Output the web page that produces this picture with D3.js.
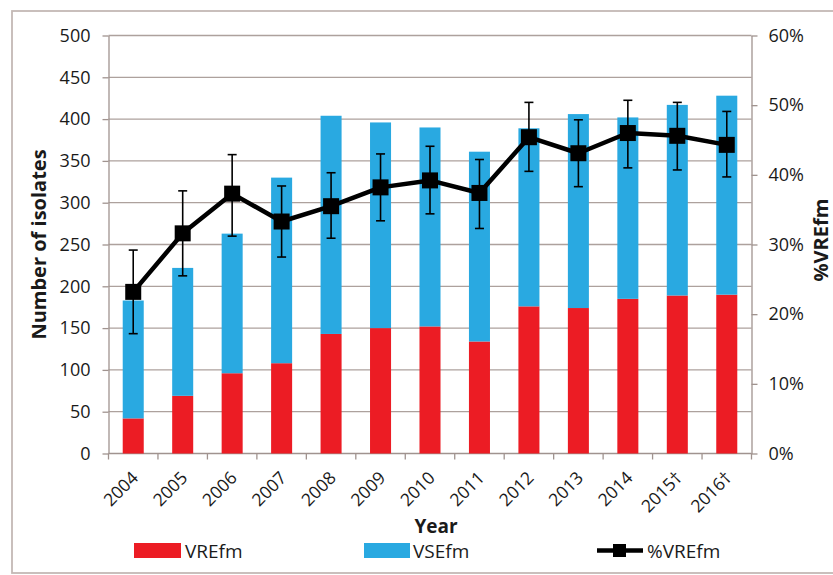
<!DOCTYPE html>
<html>
<head>
<meta charset="utf-8">
<script src="https://cdn.jsdelivr.net/npm/d3@7"></script>
<style>
  html, body { margin: 0; padding: 0; background: #ffffff; }
  svg { display: block; }
  text { font-family: "Open Sans", "Noto Sans", sans-serif; fill: #1a1a1a; }
</style>
</head>
<body>
<svg id="chart" width="833" height="575"></svg>
<script>
// ---- data ----
const years = ["2004","2005","2006","2007","2008","2009","2010","2011","2012","2013","2014","2015\u2020","2016\u2020"];
const vreCounts = [42, 69, 96, 108, 143, 150, 152, 134, 176, 174, 185, 189, 190];
const vseCounts = [141, 153, 167, 222, 261, 246, 238, 227, 213, 232, 217, 228, 238];
const pctVRE   = [23.2, 31.6, 37.3, 33.3, 35.5, 38.2, 39.2, 37.4, 45.4, 43.1, 46.0, 45.6, 44.3];
const pctLower = [17.2, 25.5, 31.2, 28.2, 30.9, 33.4, 34.4, 32.3, 40.5, 38.3, 41.0, 40.7, 39.7];
const pctUpper = [29.2, 37.7, 42.9, 38.4, 40.3, 43.0, 44.1, 42.2, 50.4, 47.9, 50.7, 50.4, 49.1];
const leftTicks = [0, 50, 100, 150, 200, 250, 300, 350, 400, 450, 500];
const rightTicks = [0, 10, 20, 30, 40, 50, 60];
const seriesNames = ["VREfm", "VSEfm", "%VREfm"];
const colors = { vre: "#ec1c24", vse: "#29a9e1", line: "#000000", grid: "#ada19d", axis: "#a0938f" };

// ---- layout ----
const svg = d3.select("#chart");
const L = 108.5, R = 751.5, T = 35.5, B = 453.5;

svg.append("rect").attr("x", 12).attr("y", 11).attr("width", 840).attr("height", 562)
  .attr("fill", "none").attr("stroke", "#c4b9b5").attr("stroke-width", 1.8);

const x = d3.scaleBand().domain(years).range([L, R]).paddingInner(0.575).paddingOuter(0.2875);
const y = d3.scaleLinear().domain([0, 500]).range([B, T]);
const y2 = d3.scaleLinear().domain([0, 60]).range([B, T]);

// gridlines
svg.append("g").selectAll("line").data(leftTicks.filter(d => d > 0)).join("line")
  .attr("x1", L).attr("x2", R).attr("y1", d => y(d)).attr("y2", d => y(d))
  .attr("stroke", colors.grid).attr("stroke-width", 1.3);

// left axis
const gl = svg.append("g").attr("transform", `translate(${L},0)`)
  .call(d3.axisLeft(y).tickValues(leftTicks).tickSize(6).tickPadding(12).tickSizeOuter(0));
gl.select(".domain").attr("stroke", colors.axis).attr("stroke-width", 1.3);
gl.selectAll(".tick line").attr("stroke", colors.axis).attr("stroke-width", 1.3);
gl.selectAll(".tick text").style("font-size", "18px").attr("fill", "#1a1a1a").style("font-family", "'Open Sans', sans-serif");

// right axis
const gr = svg.append("g").attr("transform", `translate(${R},0)`)
  .call(d3.axisRight(y2).tickValues(rightTicks).tickFormat(d => d + "%").tickSize(6).tickPadding(11).tickSizeOuter(0));
gr.select(".domain").attr("stroke", colors.axis).attr("stroke-width", 1.3);
gr.selectAll(".tick line").attr("stroke", colors.axis).attr("stroke-width", 1.3);
gr.selectAll(".tick text").style("font-size", "18px").attr("fill", "#1a1a1a").style("font-family", "'Open Sans', sans-serif");

// bottom axis line and ticks at band boundaries
const step = x.step();
const bounds = d3.range(years.length + 1).map(i => L + i * step);
svg.append("line").attr("x1", L).attr("x2", R).attr("y1", B).attr("y2", B)
  .attr("stroke", colors.axis).attr("stroke-width", 1.3);
svg.append("g").selectAll("line").data(bounds).join("line")
  .attr("x1", d => d).attr("x2", d => d).attr("y1", B).attr("y2", B + 6)
  .attr("stroke", colors.axis).attr("stroke-width", 1.3);

// bars
const stackData = years.map((yr, i) => ({ year: yr, vre: vreCounts[i], vse: vseCounts[i] }));
const stack = d3.stack().keys(["vre", "vse"])(stackData);
svg.append("g").selectAll("g").data(stack).join("g")
  .attr("fill", d => colors[d.key])
  .selectAll("rect").data(d => d).join("rect")
  .attr("x", d => x(d.data.year)).attr("width", x.bandwidth())
  .attr("y", d => y(d[1])).attr("height", d => y(d[0]) - y(d[1]));

// error bars
const cx = i => x(years[i]) + x.bandwidth() / 2;
const eg = svg.append("g").attr("stroke", colors.line).attr("stroke-width", 1.6);
years.forEach((yr, i) => {
  eg.append("line").attr("x1", cx(i)).attr("x2", cx(i)).attr("y1", y2(pctLower[i])).attr("y2", y2(pctUpper[i]));
  eg.append("line").attr("x1", cx(i) - 4.5).attr("x2", cx(i) + 4.5).attr("y1", y2(pctLower[i])).attr("y2", y2(pctLower[i]));
  eg.append("line").attr("x1", cx(i) - 4.5).attr("x2", cx(i) + 4.5).attr("y1", y2(pctUpper[i])).attr("y2", y2(pctUpper[i]));
});

// line + markers
const line = d3.line().x((d, i) => cx(i)).y(d => y2(d));
svg.append("path").datum(pctVRE).attr("d", line)
  .attr("fill", "none").attr("stroke", colors.line).attr("stroke-width", 4.5).attr("stroke-linejoin", "round");
const ms = 16;
svg.append("g").selectAll("rect").data(pctVRE).join("rect")
  .attr("x", (d, i) => cx(i) - ms / 2).attr("y", d => y2(d) - ms / 2)
  .attr("width", ms).attr("height", ms).attr("fill", colors.line);

// x labels
svg.append("g").selectAll("text").data(years).join("text")
  .attr("transform", d => `translate(${x(d) + x.bandwidth() / 2 + 6},${479}) rotate(-45)`)
  .attr("text-anchor", "end").style("font-size", "17.5px").text(d => d);

// axis titles
svg.append("text").attr("transform", `translate(46,${(T + B) / 2}) rotate(-90)`)
  .attr("text-anchor", "middle").style("font-size", "20px").style("font-weight", "bold").text("Number of isolates");
svg.append("text").attr("transform", `translate(828,${240}) rotate(-90)`)
  .attr("text-anchor", "middle").style("font-size", "20px").style("font-weight", "bold").text("%VREfm");
svg.append("text").attr("x", 436).attr("y", 533)
  .attr("text-anchor", "middle").style("font-size", "19px").style("font-weight", "bold").text("Year");

// legend
const lg = svg.append("g");
lg.append("rect").attr("x", 134).attr("y", 543).attr("width", 47).attr("height", 15).attr("fill", colors.vre);
lg.append("text").attr("x", 185).attr("y", 558).style("font-size", "19px").text(seriesNames[0]);
lg.append("rect").attr("x", 364).attr("y", 543).attr("width", 46).attr("height", 15).attr("fill", colors.vse);
lg.append("text").attr("x", 413).attr("y", 558).style("font-size", "19px").text(seriesNames[1]);
lg.append("line").attr("x1", 597).attr("x2", 643).attr("y1", 550.5).attr("y2", 550.5)
  .attr("stroke", colors.line).attr("stroke-width", 4.5);
lg.append("rect").attr("x", 613).attr("y", 544).attr("width", 13).attr("height", 13).attr("fill", colors.line);
lg.append("text").attr("x", 647).attr("y", 558).style("font-size", "19px").text(seriesNames[2]);
</script>
</body>
</html>
